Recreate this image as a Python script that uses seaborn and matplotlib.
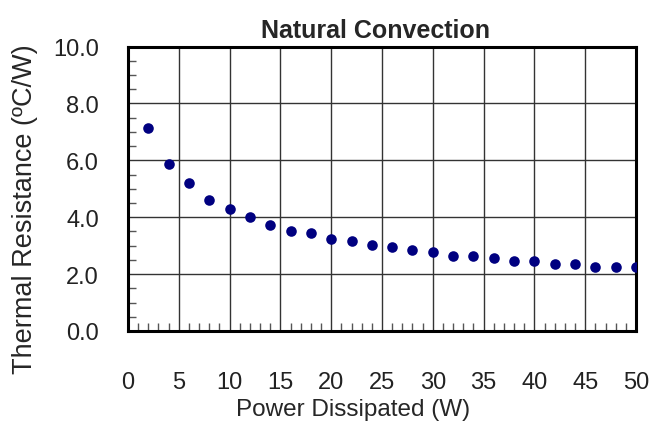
import matplotlib
matplotlib.use("Agg")
import matplotlib.pyplot as plt
import seaborn as sns
import pandas as pd
from matplotlib.ticker import MultipleLocator

power_w = [2, 4, 6, 8, 10, 12, 14, 16, 18, 20, 22, 24, 26,
           28, 30, 32, 34, 36, 38, 40, 42, 44, 46, 48, 50]
resistance = [7.14, 5.88, 5.19, 4.60, 4.30, 4.00, 3.72, 3.53, 3.43, 3.24, 3.15, 3.04, 2.94,
              2.85, 2.76, 2.64, 2.64, 2.56, 2.46, 2.46, 2.35, 2.35, 2.26, 2.26, 2.26]
x_ticks = [0, 5, 10, 15, 20, 25, 30, 35, 40, 45, 50]
y_ticks = [0, 2, 4, 6, 8, 10]

title = "Natural Convection"
x_label = "Power Dissipated (W)"
y_label = "Thermal Resistance (\u00baC/W)"

sns.set_style("white")
plt.rcParams['font.family'] = ['Liberation Sans', 'DejaVu Sans']

df = pd.DataFrame({"power": power_w, "res": resistance})

fig = plt.figure(figsize=(6.51, 4.39), dpi=100)
ax = fig.add_axes([128/651, 1-332/439, (636-128)/651, (332-47.5)/439])

sns.scatterplot(data=df, x="power", y="res", ax=ax, color="#000080",
                s=58, linewidth=0, zorder=3, legend=False)

ax.set_xlim(0, 50)
ax.set_ylim(0, 10)
ax.set_xticks(x_ticks)
ax.set_yticks(y_ticks)
ax.set_xticklabels([str(v) for v in x_ticks])
ax.set_yticklabels([f"{v:.1f}" for v in y_ticks])
ax.xaxis.set_minor_locator(MultipleLocator(1))
ax.yaxis.set_minor_locator(MultipleLocator(0.5))

ax.grid(True, which="major", color="#333333", linewidth=1)
ax.set_axisbelow(True)

ax.tick_params(axis="both", which="major", length=0, labelsize=17, colors="#222222")
ax.tick_params(axis="x", which="major", pad=29)
ax.tick_params(axis="y", which="major", pad=21)
ax.tick_params(axis="both", which="minor", direction="in", length=6, width=1, color="#555555")
ax.tick_params(axis="y", which="minor", left=True)
ax.tick_params(axis="x", which="minor", bottom=True)

for sp in ax.spines.values():
    sp.set_visible(True)
    sp.set_color("black")
    sp.set_linewidth(2.2)

ax.set_title(title, fontsize=18, fontweight="bold", pad=7, x=0.487)
ax.set_xlabel(x_label, fontsize=17.5)
ax.set_ylabel(y_label, fontsize=19.5)
ax.xaxis.set_label_coords(0.443, -0.235)
ax.yaxis.set_label_coords(-0.178, 0.43)

fig.savefig("out.png", dpi=100)
